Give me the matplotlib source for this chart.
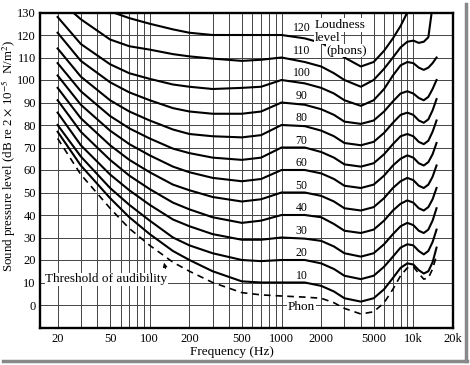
import numpy as np
import matplotlib
matplotlib.use("Agg")
import matplotlib.pyplot as plt
from matplotlib.lines import Line2D

# DATA

freqs = [20, 30, 50, 70, 100, 150, 200, 300, 500, 700, 1000, 1500, 2000, 2500,
         3000, 4000, 5000, 6000, 7000, 8000, 9000, 10000, 11000, 12000, 13000,
         14000, 15000]

nan = np.nan

spl_threshold = [74, 58, 43, 34, 26.5, 19, 15, 10, 5.5, 4.5, 4, 3.5, 3, 1,
                 -1.5, -4, -3, 1, 7, 13, 16.5, 17, 14, 11.5, 12, 16, 22]
spl_10 = [77, 62, 47.5, 39, 31.5, 24, 20, 15, 10.5, 10, 10, 10, 8.5, 6,
          3, 1.5, 3, 7, 12, 16.5, 18.5, 18, 15.5, 14, 15, 19, 25.5]
spl_20 = [80, 66, 52, 44.5, 37.5, 30, 26.5, 23, 20, 19.5, 20, 20, 18.5, 16,
          13, 11.5, 13, 17, 21.5, 25.5, 27, 26.5, 24, 22.5, 24, 28, 33.5]
spl_30 = [85.5, 71, 58, 51, 44.5, 38, 35, 31.5, 29, 29, 30, 29.5, 28.5, 26,
          23, 21.5, 23, 27, 31.5, 35, 36.5, 35.5, 33, 32, 33.5, 37.5, 43]
spl_40 = [91, 77, 64.5, 57.5, 51.5, 45.5, 42.5, 39, 36.5, 37.5, 40, 40, 39, 36,
          33, 32, 33.5, 37.5, 42, 45, 46.5, 45.5, 43, 42, 43.5, 47, 52]
spl_50 = [96.5, 83, 71, 64.5, 59, 53.5, 51, 48, 46, 47, 50, 50, 48.5, 46,
          43, 42, 43.5, 47.5, 52, 55, 56.5, 55.5, 53, 52, 53.5, 57, 62]
spl_60 = [102, 89, 77.5, 71.5, 66.5, 61.5, 59, 56.5, 55, 56, 60, 60, 58.5, 56,
          53, 52, 53.5, 57.5, 62, 65, 66.5, 65.5, 63, 62, 63.5, 67, 72]
spl_70 = [107.5, 95, 84, 78.5, 74, 69.5, 67.5, 65.5, 64.5, 65.5, 70, 70, 68,
          65.5, 62.5, 61.5, 63, 67, 71.5, 75, 76, 75, 72.5, 71.5, 73, 77, 82]
spl_80 = [114, 101.5, 91, 86, 82, 78, 76, 75, 74.5, 75.5, 80, 79.5, 77.5, 75,
          72, 71, 72.5, 76.5, 81, 84.5, 85.5, 84.5, 82, 81, 82.5, 86.5, 91.5]
spl_90 = [121, 108.5, 99, 94.5, 91, 87.5, 86, 85, 85, 86, 90, 89, 87, 84.5,
          81.5, 80.5, 82, 86, 90.5, 94, 95, 94, 92, 91, 92.5, 96, 100]
spl_100 = [128, 116, 107, 103, 100.5, 98, 97, 96, 96.5, 97, 100, 98.5, 96.5,
           94, 91, 88.5, 91, 96, 102, 106.5, 108, 107.5, 105.5, 104.5, 105.5,
           107.5, 110]
spl_110 = [136, 127, 118, 115, 113.5, 111.5, 110.5, 109.5, 108.5, 109, 110,
           108, 106, 103, 100, 97, 100, 105, 110, 114.5, 117, 117.5, 116.5,
           117, 119, 133, nan]
spl_120 = [nan, 137, 130.5, 127.5, 125, 122.5, 121, 120, 120, 120, 120, 118.5,
           116.5, 113.5, 110, 106, 108, 113, 118.5, 124, 130, 136, nan, nan,
           nan, nan, nan]

phon_levels = [10, 20, 30, 40, 50, 60, 70, 80, 90, 100, 110, 120]
phon_curves = [spl_10, spl_20, spl_30, spl_40, spl_50, spl_60, spl_70,
               spl_80, spl_90, spl_100, spl_110, spl_120]

grid_freqs = [20, 30, 40, 50, 60, 70, 80, 90, 100, 200, 300, 400, 500, 600,
              700, 800, 900, 1000, 2000, 3000, 4000, 5000, 6000, 7000, 8000,
              9000, 10000]
label_freqs = [20, 50, 100, 200, 500, 1000, 2000, 5000, 10000, 20000]
label_texts = ["20", "50", "100", "200", "500", "1000", "2000", "5000", "10k", "20k"]
y_ticks = list(range(0, 140, 10))


plt.rcParams['font.family'] = ['Liberation Serif', 'DejaVu Serif']
plt.rcParams['mathtext.fontset'] = 'stix'

fig = plt.figure(figsize=(4.7, 3.65), dpi=100)
ax = fig.add_axes([40/470, 37.5/365, 413/470, 315/365])

ax.set_xscale('log')
ax.set_xlim(14.7, 20000)
ax.set_ylim(-10, 130)

# mreža
for f in grid_freqs:
    ax.axvline(f, color='#444444', lw=0.7, zorder=1)
for v in y_ticks[:-1]:
    ax.axhline(v, color='#444444', lw=0.7, zorder=1)

# krive
for curve in phon_curves:
    ax.plot(freqs, curve, color='black', lw=1.5, zorder=3)
ax.plot(freqs, spl_threshold, color='black', lw=1.2, ls=(0, (4, 3)), zorder=3)

# oznake krivih
for p in phon_levels:
    ax.text(1420, p + 3, str(p), ha='center', va='center', fontsize=8.5,
            zorder=5)

box = dict(fc='white', ec='none', pad=0.5)
ax.text(1780, 124.5, "Loudness", ha='left', va='center', fontsize=9.5, zorder=5, bbox=box)
ax.text(1780, 118.8, "level", ha='left', va='center', fontsize=9.5, zorder=5, bbox=box)
ax.text(2200, 113, "(phons)", ha='left', va='center', fontsize=9.5, zorder=5, bbox=box)

ax.text(47, 11.4, "Threshold of audibility", ha='center', va='center',
        fontsize=9.5, zorder=5, bbox=box)
ax.annotate("", xy=(127, 20), xytext=(133, 15),
            arrowprops=dict(arrowstyle='-|>', color='black', lw=0.8,
                            mutation_scale=6), zorder=5)
ax.text(1420, -1, "Phon", ha='center', va='center', fontsize=9.5, zorder=5, bbox=box)

ax.set_xticks(label_freqs)
ax.set_xticklabels(label_texts)
ax.xaxis.set_minor_locator(matplotlib.ticker.NullLocator())
ax.set_yticks(y_ticks)
ax.tick_params(length=0, labelsize=9, pad=4)
ax.tick_params(axis='y', pad=3)

for s in ax.spines.values():
    s.set_linewidth(1.7)

fig.text(232/470, 1 - 352/365, "Frequency (Hz)", ha='center', va='center', fontsize=9.5)
fig.text(8.5/470, 1 - 156/365,
         r"Sound pressure level (dB re 2 $\times$ 10$^{-5}$  N/m$^2$)",
         rotation=90, ha='center', va='center', fontsize=9.3)

# okvir slike
fig.add_artist(Line2D([466/470, 466/470], [4/365, 1 - 4/365], color='#888888', lw=2.5))
fig.add_artist(Line2D([3/470, 467/470], [4/365, 4/365], color='#888888', lw=2.5))

fig.savefig("out.png", dpi=100)
